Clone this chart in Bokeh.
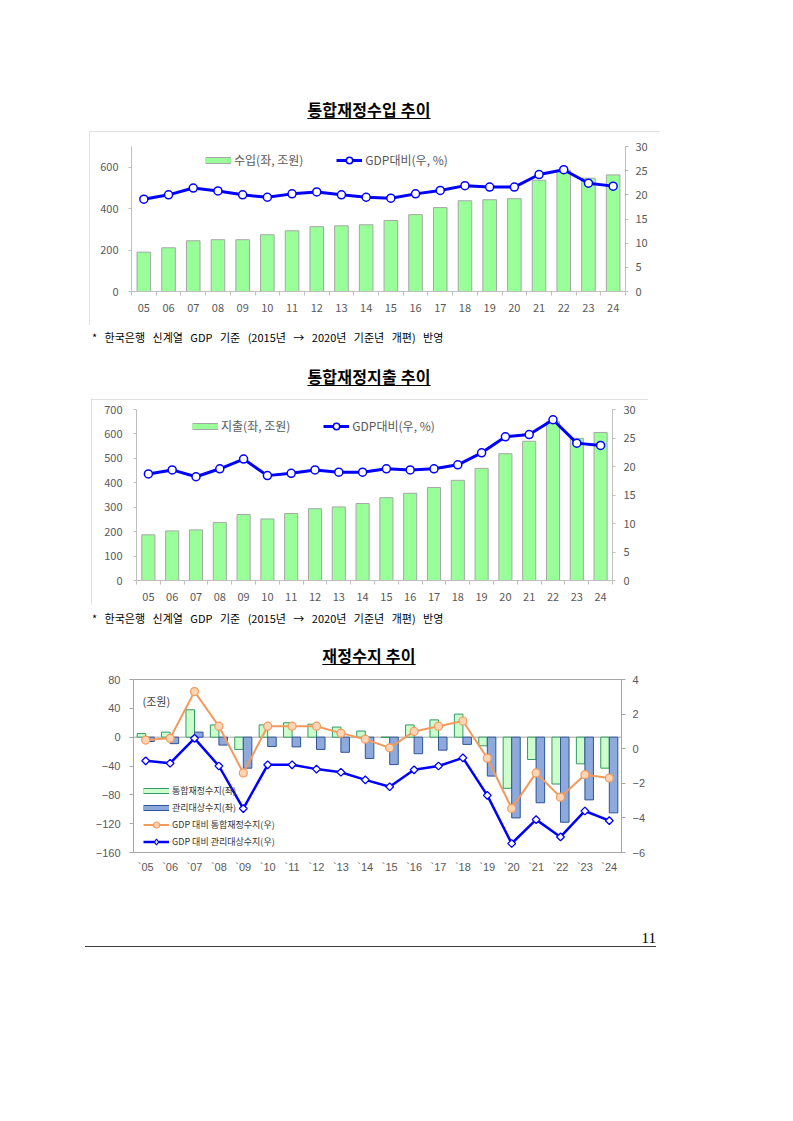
from bokeh.plotting import figure
from bokeh.models import (Range1d, LinearAxis, FixedTicker, Legend, LegendItem, Span,
                          Div, Spacer, Label, ColumnDataSource)
from bokeh.transform import dodge
from bokeh.layouts import column, row
from bokeh.embed import file_html
from bokeh.resources import INLINE
import numpy as np
import math

# ---------------- data ----------------
years = ["05", "06", "07", "08", "09", "10", "11", "12", "13", "14",
         "15", "16", "17", "18", "19", "20", "21", "22", "23", "24"]
years_b = ["`05", "`06", "`07", "`08", "`09", "`10", "`11", "`12", "`13", "`14",
           "`15", "`16", "`17", "`18", "`19", "`20", "`21", "`22", "`23", "`24"]

revenue = [190, 211, 245, 250, 250, 274, 293, 313, 317, 322,
           343, 371, 405, 438, 443, 448, 537, 585, 547, 563]
revenue_gdp = [19.1, 20.0, 21.4, 20.8, 20.0, 19.5, 20.2, 20.6, 20.0, 19.5,
               19.3, 20.2, 20.9, 21.9, 21.6, 21.6, 24.2, 25.2, 22.4, 21.8]

spending = [187, 203, 207, 237, 270, 252, 274, 294, 301, 315,
            339, 357, 381, 410, 459, 519, 570, 650, 582, 606]
spending_gdp = [18.7, 19.4, 18.2, 19.6, 21.3, 18.4, 18.8, 19.4, 19.0, 19.0,
                19.6, 19.4, 19.6, 20.3, 22.4, 25.2, 25.6, 28.2, 24.1, 23.7]

bal_total = [5, 7, 38, 17, -17, 17, 20, 18, 14, 8.5,
             -0.2, 17, 24, 32, -12, -71, -31, -65, -37, -43]
bal_managed = [-6, -9, 7, -11, -43, -13, -13.5, -17, -21, -29.5,
               -38, -23, -18, -10, -54, -112, -91, -118, -87, -105]
bal_total_gdp = [0.5, 0.6, 3.3, 1.3, -1.4, 1.3, 1.3, 1.3, 0.9, 0.55,
                 0.05, 1.0, 1.3, 1.6, -0.55, -3.45, -1.4, -2.8, -1.5, -1.7]
bal_managed_gdp = [-0.7, -0.84, 0.6, -1.0, -3.46, -0.93, -0.93, -1.18, -1.36, -1.8,
                   -2.2, -1.22, -1.0, -0.53, -2.7, -5.48, -4.1, -5.1, -3.6, -4.16]

left_ticks_1 = [0, 200, 400, 600]
left_ticks_2 = [0, 100, 200, 300, 400, 500, 600, 700]
right_ticks_12 = [0, 5, 10, 15, 20, 25, 30]
left_ticks_3 = [-160, -120, -80, -40, 0, 40, 80]
right_ticks_3 = [-6, -4, -2, 0, 2, 4]

KR = "Noto Sans CJK KR"
LBL = "#595959"
AX = "#BFBFBF"

n = len(years)
idx = list(range(n))
bounds = [i - 0.5 for i in range(n + 1)]
NAN = np.array([np.nan])


def style_axis(ax, tick_out, standoff, size="11px", font=KR, line_color=AX):
    ax.axis_line_color = line_color
    ax.major_tick_line_color = line_color
    ax.major_tick_in = 0
    ax.major_tick_out = tick_out
    ax.minor_tick_line_color = None
    ax.major_label_standoff = standoff
    ax.major_label_text_font = font
    ax.major_label_text_font_size = size
    ax.major_label_text_color = LBL


def legend_patch(p, border, fill):
    # invisible (NaN) renderers used only to draw a bordered legend swatch
    b = p.line(x=NAN, y=NAN, line_color=border, line_width=7)
    f = p.line(x=NAN, y=NAN, line_color=fill, line_width=5)
    return [b, f]


def top_chart(width, height, borders, bars, pct, y_max, lticks, bar_label,
              legend_xy, lstand, rstand):
    l, r, t, b = borders
    p = figure(width=width, height=height, x_range=Range1d(-0.5, n - 0.5),
               y_range=Range1d(0, y_max), output_backend="svg", toolbar_location=None,
               min_border_left=l, min_border_right=r, min_border_top=t,
               min_border_bottom=b)
    p.outline_line_color = None
    p.grid.visible = False
    p.styles = {"outline": "1px solid #D9D9D9", "outline-offset": "-1px"}
    p.extra_y_ranges = {"pct": Range1d(0, 30)}

    p.yaxis.ticker = FixedTicker(ticks=lticks)
    style_axis(p.yaxis[0], 3, lstand)
    ra = LinearAxis(y_range_name="pct", ticker=FixedTicker(ticks=right_ticks_12))
    style_axis(ra, 3, rstand)
    p.add_layout(ra, "right")

    xa = p.xaxis[0]
    xa.ticker = FixedTicker(ticks=idx, minor_ticks=bounds)
    xa.major_label_overrides = {i: y for i, y in enumerate(years)}
    style_axis(xa, 0, 8)
    xa.major_tick_line_color = None
    xa.minor_tick_line_color = AX
    xa.minor_tick_in = 0
    xa.minor_tick_out = 4

    p.vbar(x=idx, top=bars, width=0.55, bottom=0, fill_color="#99FF99",
           line_color="#A6A6A6", line_width=1)
    ln = p.line(idx, pct, y_range_name="pct", line_color="#0000FF", line_width=3)
    pts = p.scatter(idx, pct, y_range_name="pct", marker="circle", size=8,
                    fill_color="white", line_color="#0000FF", line_width=1.5)

    sw = legend_patch(p, "#A6A6A6", "#99FF99")
    leg = Legend(items=[LegendItem(label=bar_label, renderers=sw),
                        LegendItem(label="GDP대비(우, %)", renderers=[ln, pts])],
                 orientation="horizontal", location=legend_xy,
                 border_line_color=None, background_fill_alpha=0,
                 padding=0, margin=0, spacing=33, glyph_width=26, glyph_height=16,
                 label_height=14, label_standoff=3,
                 label_text_font=KR, label_text_font_size="12px",
                 label_text_color=LBL)
    p.add_layout(leg)
    return p


p1 = top_chart(571, 194, (42, 35, 15, 34), revenue, revenue_gdp, 700, left_ticks_1,
               "수입(좌, 조원)", (74, 123), 10, 7)
p2 = top_chart(557, 206, (45, 36, 10, 25), spending, spending_gdp, 700, left_ticks_2,
               "지출(좌, 조원)", (56, 146), 11, 8)

# ---------------- chart 3 ----------------
src = ColumnDataSource(dict(x=idx, total=bal_total, managed=bal_managed,
                            tgdp=bal_total_gdp, mgdp=bal_managed_gdp))
p3 = figure(width=580, height=218, x_range=Range1d(-0.5, n - 0.5),
            y_range=Range1d(-160, 80), output_backend="svg", toolbar_location=None,
            min_border_left=48, min_border_right=44, min_border_top=13,
            min_border_bottom=32)
p3.outline_line_color = "#A6A6A6"
p3.grid.visible = False
p3.extra_y_ranges = {"pct": Range1d(-6, 4)}
p3.yaxis.ticker = FixedTicker(ticks=left_ticks_3)
style_axis(p3.yaxis[0], 4, 9, size="11px", font="Liberation Sans", line_color="#A6A6A6")
ra3 = LinearAxis(y_range_name="pct", ticker=FixedTicker(ticks=right_ticks_3))
style_axis(ra3, 4, 7, size="11px", font="Liberation Sans", line_color="#A6A6A6")
p3.add_layout(ra3, "right")
xa3 = p3.xaxis[0]
xa3.ticker = FixedTicker(ticks=idx)
xa3.major_label_overrides = {i: y for i, y in enumerate(years_b)}
style_axis(xa3, 0, 8, size="11px", font="Liberation Sans", line_color=None)
xa3.major_tick_line_color = None

p3.add_layout(Span(location=0, dimension="width", line_color="#A6A6A6", line_width=1,
                   level="underlay"))

p3.vbar(x=dodge("x", -0.175, range=p3.x_range), top="total", width=0.35, bottom=0,
        source=src, fill_color="#CCFFCC", line_color="#339966", line_width=1)
p3.vbar(x=dodge("x", 0.175, range=p3.x_range), top="managed", width=0.35, bottom=0,
        source=src, fill_color="#8EA9DB", line_color="#2F5597", line_width=1)
ol = p3.line("x", "tgdp", source=src, y_range_name="pct", line_color="#F39A5B",
             line_width=2)
om = p3.scatter("x", "tgdp", source=src, y_range_name="pct", marker="circle", size=8,
                fill_color="#FBD5B5", line_color="#F39A5B", line_width=1.2)
bl = p3.line("x", "mgdp", source=src, y_range_name="pct", line_color="#0000FF",
             line_width=2.5)
p3.scatter("x", "mgdp", source=src, y_range_name="pct", marker="square",
           angle=math.pi / 4, size=5.5, fill_color="white", line_color="#0000FF",
           line_width=1.3)
bm_leg = p3.scatter(x=NAN, y=NAN, marker="diamond", size=8, fill_color="white",
                    line_color="#0000FF", line_width=1.2)

sw_g = [p3.line(x=NAN, y=NAN, line_color="#339966", line_width=6),
        p3.line(x=NAN, y=NAN, line_color="#CCFFCC", line_width=4)]
sw_m = [p3.line(x=NAN, y=NAN, line_color="#2F5597", line_width=6),
        p3.line(x=NAN, y=NAN, line_color="#8EA9DB", line_width=4)]
leg3 = Legend(items=[LegendItem(label="통합재정수지(좌)", renderers=sw_g),
                     LegendItem(label="관리대상수지(좌)", renderers=sw_m),
                     LegendItem(label="GDP 대비 통합재정수지(우)", renderers=[ol, om]),
                     LegendItem(label="GDP 대비 관리대상수지(우)", renderers=[bl, bm_leg])],
              orientation="vertical", location=(10, 3), border_line_color=None,
              background_fill_alpha=0, padding=0, margin=0, spacing=2,
              glyph_width=26, glyph_height=15, label_height=15, label_standoff=3,
              label_text_font=KR, label_text_font_size="9px", label_text_color="#333333")
p3.add_layout(leg3)
p3.add_layout(Label(x=9, y=152, x_units="screen", y_units="screen", text="(조원)",
                    text_font=KR, text_font_size="11px", text_color="#404040",
                    text_baseline="middle"))

# ---------------- page texts ----------------
def title_div(txt):
    html = ('<div style="width:738px;font-family:\'Noto Sans CJK KR\';font-weight:bold;'
            'font-size:16px;line-height:22px;letter-spacing:0.2px;'
            'text-decoration:underline;text-underline-offset:2px;text-align:center;'
            'color:#000;white-space:nowrap;">' + txt + '</div>')
    return Div(text=html, width=738, height=22, margin=0)


def foot_div():
    html = ('<div style="font-family:\'Noto Sans CJK KR\';font-size:11px;line-height:16px;'
            'word-spacing:5px;color:#000;white-space:nowrap;">'
            '* 한국은행 신계열 GDP 기준 (2015년 → 2020년 기준년 개편) 반영</div>')
    return Div(text=html, width=600, height=16, margin=0)


page_div = Div(text=('<div style="width:571px;height:18px;border-bottom:1px solid #404040;'
                     'text-align:right;font-family:\'Liberation Serif\';font-size:15px;'
                     'line-height:18px;color:#000;">11</div>'),
               width=571, height=19, margin=0)


def sp(h=0, w=0):
    if w:
        return Spacer(width=w, height=1, margin=0)
    return Spacer(height=h, width=1, margin=0)


layout = column(
    sp(98),
    title_div("통합재정수입 추이"),
    sp(11),
    row(sp(w=89), p1),
    sp(4),
    row(sp(w=92), foot_div()),
    sp(20),
    title_div("통합재정지출 추이"),
    sp(12),
    row(sp(w=91), p2),
    sp(5),
    row(sp(w=92), foot_div()),
    sp(18),
    title_div("재정수지 추이"),
    row(sp(w=85), p3),
    sp(45),
    row(sp(w=85), page_div),
)

open("out.html", "w").write(file_html(layout, INLINE))
